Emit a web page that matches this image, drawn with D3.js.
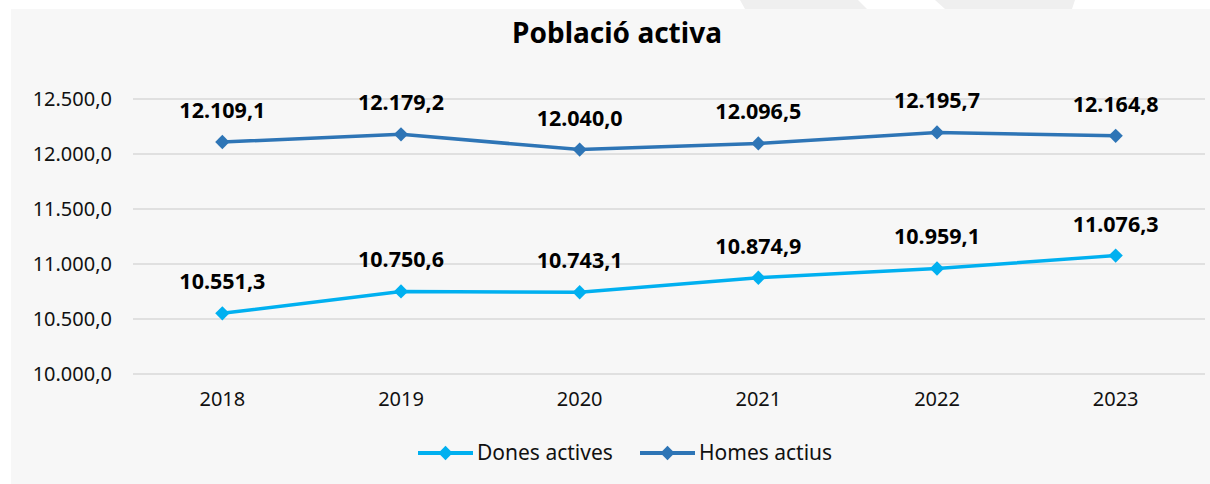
<!DOCTYPE html>
<html>
<head>
<meta charset="utf-8">
<script src="https://cdn.jsdelivr.net/npm/d3@7"></script>
<style>
  body { margin: 0; background: #ffffff; }
  svg { display: block; font-family: "Noto Sans", "Open Sans", sans-serif; }
</style>
</head>
<body>
<div id="chart"></div>
<script>
// data
const years = ["2018", "2019", "2020", "2021", "2022", "2023"];
const dones = [10551.3, 10750.6, 10743.1, 10874.9, 10959.1, 11076.3];
const homes = [12109.1, 12179.2, 12040.0, 12096.5, 12195.7, 12164.8];
const yTicks = [10000, 10500, 11000, 11500, 12000, 12500];
const seriesNames = ["Dones actives", "Homes actius"];
const seriesColors = ["#00b0f0", "#2e75b6"];

let width = 1210;
let height = 484;

let svg = d3.select("#chart").append("svg").attr("width", width).attr("height", height);

// top watermark shapes
svg.append("polygon").attr("points", "740,0 858,0 867,9 745,9").attr("fill", "#efefef");
svg.append("polygon").attr("points", "935,0 1075,0 1072,9 945,9").attr("fill", "#efefef");

// panel
svg.append("rect").attr("x", 11).attr("y", 9).attr("width", width - 11).attr("height", height - 9).attr("fill", "#f7f7f7");

svg.append("text")
  .attr("x", 617).attr("y", 43)
  .attr("text-anchor", "middle")
  .style("font-size", "28px").style("font-weight", "bold").attr("fill", "#000")
  .text("Població activa");

let x = d3.scaleBand().domain(years).range([133, 1205]);
let y = d3.scaleLinear().domain([10000, 12500]).range([374, 99]);

let fmt = d3.formatLocale({ decimal: ",", thousands: ".", grouping: [3], currency: ["", "€"] });
let f1 = fmt.format(",.1f");

// gridlines
svg.append("g").selectAll("line").data(yTicks).enter().append("line")
  .attr("x1", 133).attr("x2", 1205)
  .attr("y1", d => y(d)).attr("y2", d => y(d))
  .attr("stroke", "#d9d9d9").attr("stroke-width", 1.5);

// y axis
let yAxis = svg.append("g").attr("transform", "translate(119,0)")
  .call(d3.axisLeft(y).tickValues(yTicks).tickFormat(f1).tickSize(0).tickPadding(7));
yAxis.select(".domain").remove();
yAxis.selectAll("text").style("font-size", "20px").style("font-family", "Noto Sans").attr("fill", "#111");

// x axis
let xAxis = svg.append("g").attr("transform", "translate(0,386)")
  .call(d3.axisBottom(x).tickSize(0).tickPadding(6));
xAxis.select(".domain").remove();
xAxis.selectAll("text").style("font-size", "20px").style("font-family", "Noto Sans").attr("fill", "#111");

let diamond = d3.symbol().type(d3.symbolDiamond2).size(130);

let allSeries = [dones, homes];
allSeries.forEach(function(vals, i) {
  let pts = years.map((yr, j) => ({ year: yr, v: vals[j] }));
  let cx = d => x(d.year) + x.bandwidth() / 2;

  svg.append("path").datum(pts)
    .attr("d", d3.line().x(cx).y(d => y(d.v)))
    .attr("fill", "none").attr("stroke", seriesColors[i]).attr("stroke-width", 3.5);

  svg.append("g").selectAll("path").data(pts).enter().append("path")
    .attr("d", diamond)
    .attr("transform", d => "translate(" + cx(d) + "," + y(d.v) + ")")
    .attr("fill", seriesColors[i]);

  svg.append("g").selectAll("text").data(pts).enter().append("text")
    .attr("x", cx).attr("y", d => y(d.v) - 24)
    .attr("text-anchor", "middle")
    .style("font-size", "21.5px").style("font-weight", "bold").attr("fill", "#000")
    .text(d => f1(d.v));
});

// legend
let legendX = [418, 640];
seriesNames.forEach(function(name, i) {
  let lg = svg.append("g").attr("transform", "translate(" + legendX[i] + ",453)");
  lg.append("line").attr("x1", 0).attr("x2", 55).attr("y1", 0).attr("y2", 0)
    .attr("stroke", seriesColors[i]).attr("stroke-width", 4);
  lg.append("path").attr("d", diamond).attr("transform", "translate(27.5,0)").attr("fill", seriesColors[i]);
  lg.append("text").attr("x", 59).attr("y", 7)
    .style("font-size", "21px").attr("fill", "#111").text(name);
});
</script>
</body>
</html>
